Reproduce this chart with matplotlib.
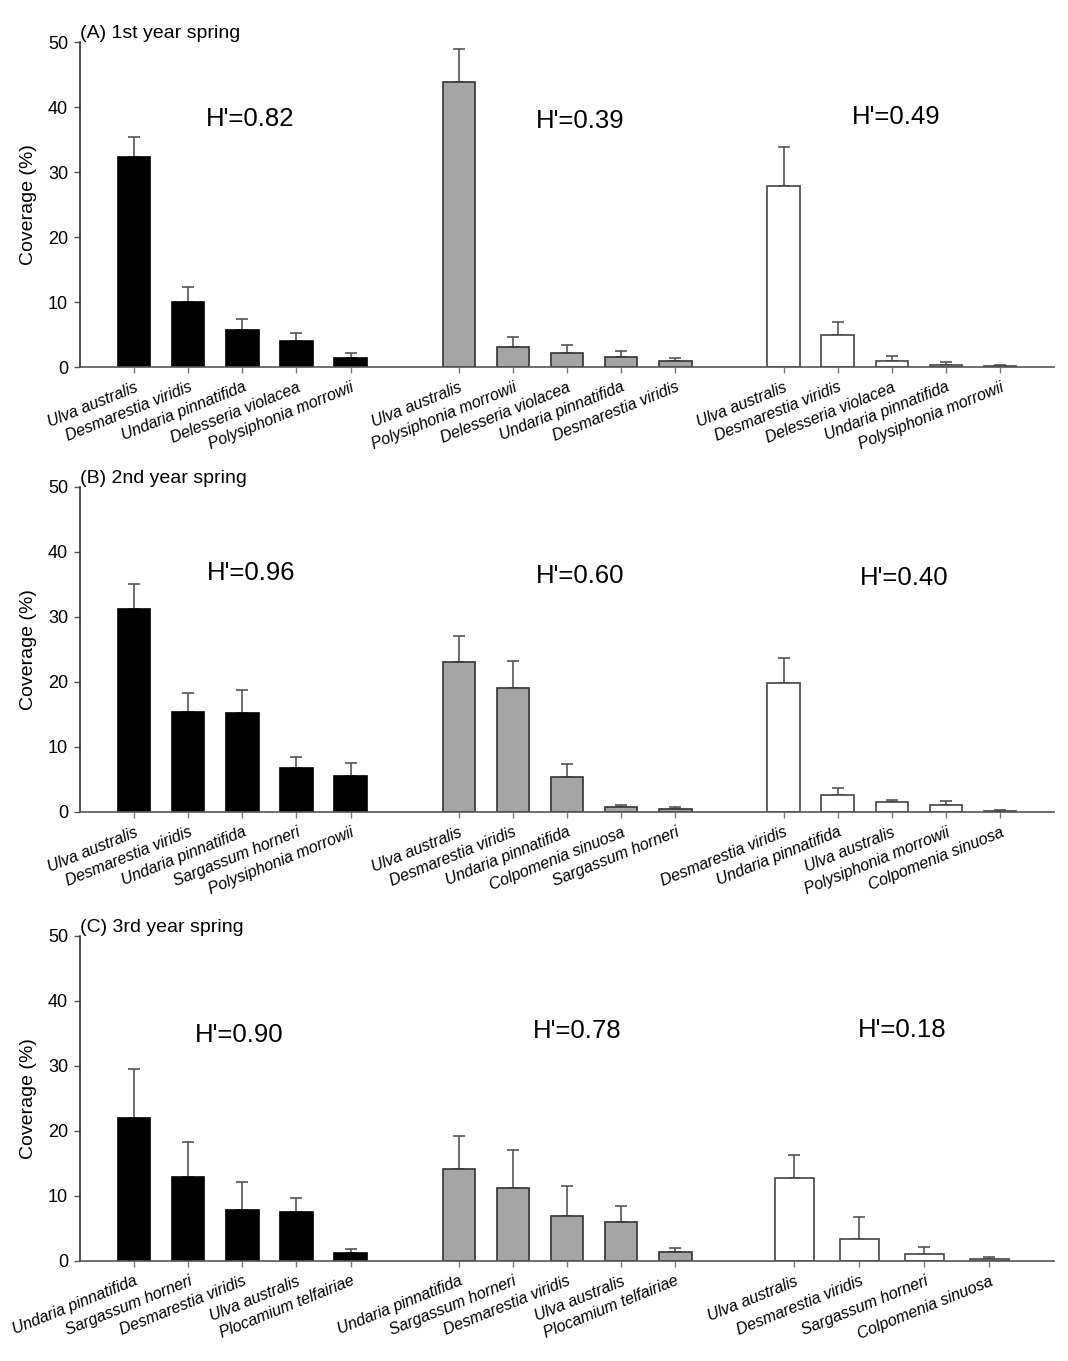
import matplotlib.pyplot as plt
import numpy as np

plt.rcParams['font.family'] = ['Liberation Sans', 'DejaVu Sans']

### Data ###
titles = ['(A) 1st year spring', '(B) 2nd year spring', '(C) 3rd year spring']

# (A) 1st year
a_species = [['Ulva australis', 'Desmarestia viridis', 'Undaria pinnatifida', 'Delesseria violacea', 'Polysiphonia morrowii'],
             ['Ulva australis', 'Polysiphonia morrowii', 'Delesseria violacea', 'Undaria pinnatifida', 'Desmarestia viridis'],
             ['Ulva australis', 'Desmarestia viridis', 'Delesseria violacea', 'Undaria pinnatifida', 'Polysiphonia morrowii']]
a_mean = [[32.3, 10.0, 5.7, 4.0, 1.4],
          [43.9, 3.1, 2.15, 1.5, 0.87],
          [27.9, 5.0, 0.87, 0.36, 0.1]]
a_se = [[3.1, 2.3, 1.7, 1.2, 0.75],
        [5.1, 1.45, 1.2, 0.9, 0.45],
        [6.0, 2.0, 0.77, 0.36, 0.26]]
a_h = ['0.82', '0.39', '0.49']

# (B) 2nd year
b_species = [['Ulva australis', 'Desmarestia viridis', 'Undaria pinnatifida', 'Sargassum horneri', 'Polysiphonia morrowii'],
             ['Ulva australis', 'Desmarestia viridis', 'Undaria pinnatifida', 'Colpomenia sinuosa', 'Sargassum horneri'],
             ['Desmarestia viridis', 'Undaria pinnatifida', 'Ulva australis', 'Polysiphonia morrowii', 'Colpomenia sinuosa']]
b_mean = [[31.2, 15.4, 15.2, 6.7, 5.5],
          [23.1, 19.0, 5.4, 0.77, 0.41],
          [19.9, 2.6, 1.54, 1.08, 0.2]]
b_se = [[3.8, 2.9, 3.6, 1.8, 2.1],
        [4.0, 4.3, 2.0, 0.26, 0.31],
        [3.8, 1.15, 0.31, 0.57, 0.1]]
b_h = ['0.96', '0.60', '0.40']

# (C) 3rd year
c_species = [['Undaria pinnatifida', 'Sargassum horneri', 'Desmarestia viridis', 'Ulva australis', 'Plocamium telfairiae'],
             ['Undaria pinnatifida', 'Sargassum horneri', 'Desmarestia viridis', 'Ulva australis', 'Plocamium telfairiae'],
             ['Ulva australis', 'Desmarestia viridis', 'Sargassum horneri', 'Colpomenia sinuosa']]
c_mean = [[22.0, 12.95, 7.8, 7.5, 1.23],
          [14.1, 11.15, 6.9, 6.06, 1.34],
          [12.74, 3.34, 1.08, 0.26]]
c_se = [[7.5, 5.4, 4.4, 2.25, 0.65],
        [5.1, 5.95, 4.6, 2.45, 0.6],
        [3.5, 3.45, 1.0, 0.3]]
c_h = ['0.90', '0.78', '0.18']

### Layout ###
fills = ['black', '#a5a5a5', 'white']
edges = ['black', '#333333', '#444444']
h_pos = [[(2.14, 38.2), (8.25, 37.8), (14.08, 38.5)],
         [(2.16, 36.7), (8.25, 36.3), (14.23, 36.0)],
         [(1.94, 34.7), (8.18, 35.4), (14.19, 35.6)]]
bottoms = [0.7303, 0.4034, 0.0735]

panels = [(a_species, a_mean, a_se, a_h),
          (b_species, b_mean, b_se, b_h),
          (c_species, c_mean, c_se, c_h)]

fig = plt.figure(figsize=(10.68, 13.61), dpi=100)

for p, (species, mean, se, hvals) in enumerate(panels):
    ax = fig.add_axes([0.0749, bottoms[p], 0.9121, 0.2388])
    ticks, labels = [], []
    for g in range(3):
        n = len(mean[g])
        step = 1.0 if n == 5 else 1.2
        x = 6 * g + 2 + (np.arange(n) - (n - 1) / 2) * step
        m = np.array(mean[g])
        e = np.array(se[g])
        ax.bar(x, m, width=0.6 * step, color=fills[g], edgecolor=edges[g], linewidth=1.2, zorder=2)
        ax.errorbar(x, m, yerr=[np.zeros(n), e], fmt='none', ecolor='#555555',
                    elinewidth=1.2, capsize=4, capthick=1.2, zorder=1)
        ticks += list(x)
        labels += species[g]
        hx, hy = h_pos[p][g]
        ax.text(hx, hy, "H'=" + hvals[g], fontsize=18.5, ha='center', va='center')

    ax.set_xlim(-1, 17)
    ax.set_ylim(0, 50)
    ax.set_yticks(np.arange(0, 51, 10))
    ax.set_xticks(ticks)
    ax.set_xticklabels(labels, rotation=22, ha='right', va='top', rotation_mode='anchor',
                       fontsize=11.5, style='italic')
    ax.tick_params(axis='y', labelsize=13, length=4.5, width=1, color='#555555', pad=4)
    ax.tick_params(axis='x', length=4, width=1, color='#777777', pad=5)
    for s in ['top', 'right']:
        ax.spines[s].set_visible(False)
    ax.spines['left'].set_color('#333333')
    ax.spines['bottom'].set_color('#555555')
    ax.spines['left'].set_linewidth(1.2)
    ax.spines['bottom'].set_linewidth(1.2)
    ax.set_ylabel('Coverage (%)', fontsize=14, labelpad=8)
    ax.text(0.0, 1.0, titles[p], transform=ax.transAxes, fontsize=14, ha='left', va='bottom')

fig.savefig('out.png', dpi=100)
